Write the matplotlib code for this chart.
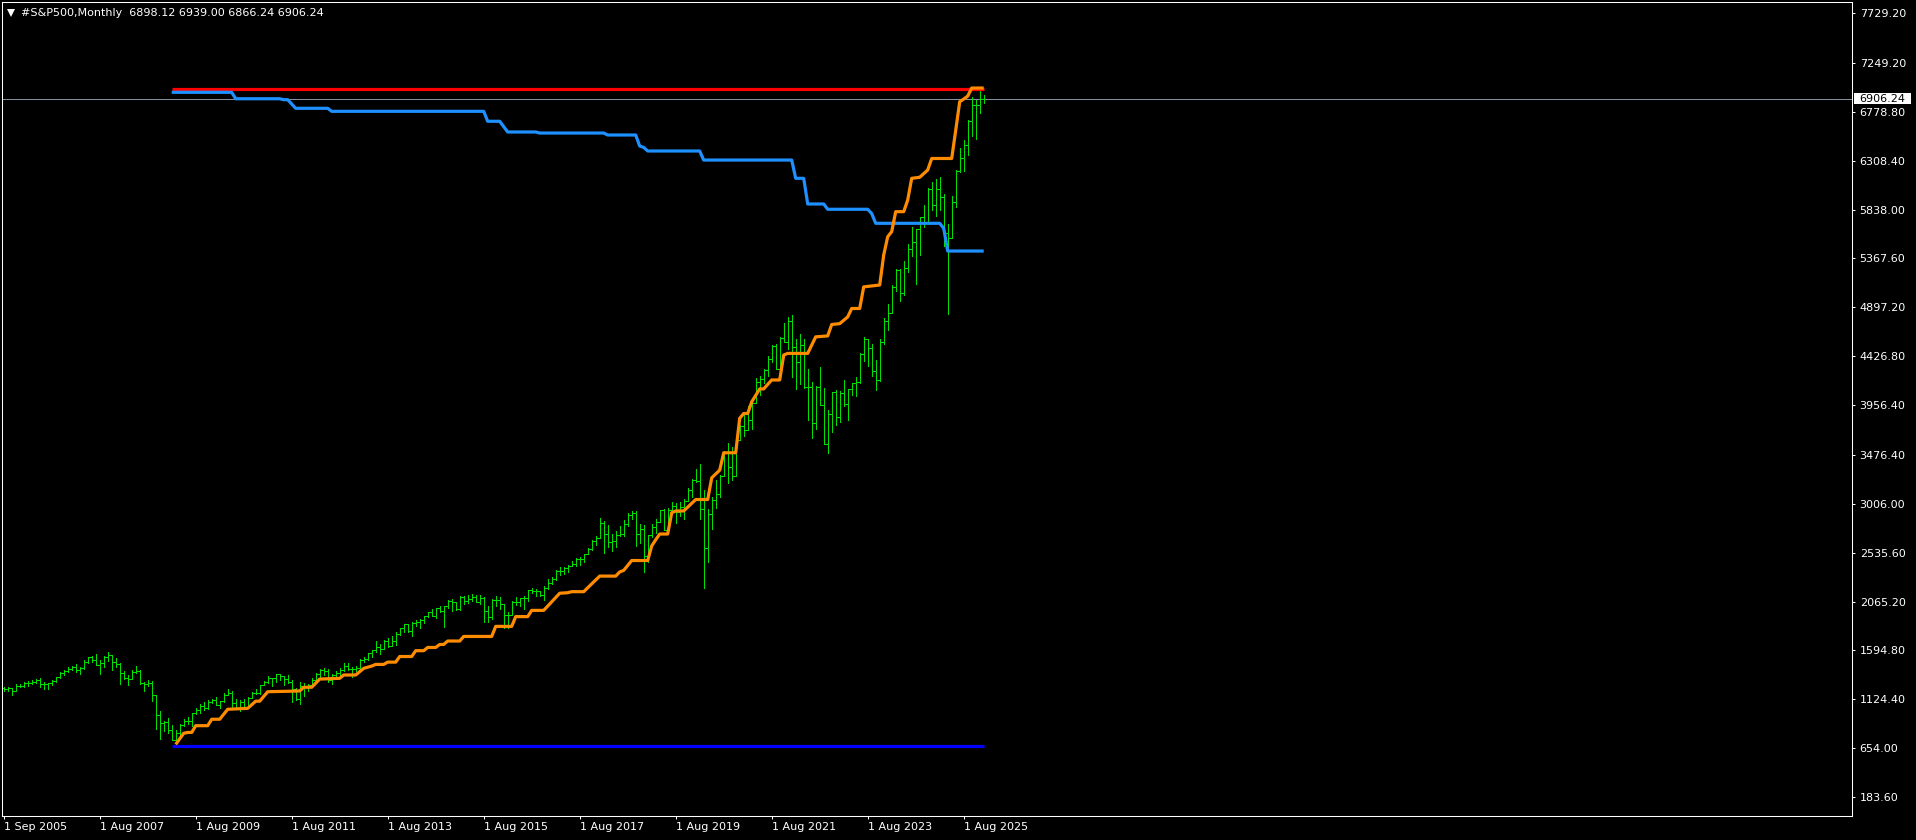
import numpy as np
import matplotlib
matplotlib.use("Agg")
import matplotlib.pyplot as plt
import matplotlib.transforms as mtransforms
from matplotlib.collections import LineCollection
from matplotlib.lines import Line2D
from matplotlib.patches import Rectangle

#------------------------------------------------------------------
# Monthly OHLC bars, first bar Aug 2005, last bar Jan 2026
opens = [
    1234.2, 1220.3, 1228.8, 1207.0, 1249.5,                                             # 2005
    1248.3, 1280.1, 1280.7, 1294.9, 1310.6, 1270.1, 1270.2, 1276.7, 1303.8, 1335.9, 1377.9, 1400.6,  # 2006
    1418.3, 1438.2, 1406.8, 1420.9, 1482.4, 1530.6, 1503.4, 1455.3, 1474.0, 1526.8, 1549.4, 1481.1,  # 2007
    1468.4, 1378.6, 1330.6, 1322.7, 1385.6, 1400.4, 1280.0, 1267.4, 1282.8, 1166.4, 968.8, 896.2,    # 2008
    903.3, 825.9, 735.1, 797.9, 872.8, 919.1, 919.3, 987.5, 1020.6, 1057.1, 1036.2, 1095.6,          # 2009
    1115.1, 1073.9, 1104.5, 1169.4, 1186.7, 1089.4, 1030.7, 1101.6, 1049.3, 1141.2, 1183.3, 1180.6,  # 2010
    1257.6, 1286.1, 1327.2, 1325.8, 1363.6, 1345.2, 1320.6, 1292.3, 1218.9, 1131.4, 1253.3, 1247.0,  # 2011
    1257.6, 1312.4, 1365.7, 1408.5, 1397.9, 1310.3, 1362.2, 1379.3, 1406.6, 1440.7, 1412.2, 1416.2,  # 2012
    1426.2, 1498.1, 1514.7, 1569.2, 1597.6, 1630.7, 1606.3, 1685.7, 1633.0, 1681.6, 1756.5, 1805.8,  # 2013
    1848.4, 1782.6, 1859.5, 1872.3, 1883.9, 1923.6, 1960.2, 1930.7, 2003.4, 1972.3, 2018.1, 2067.6,  # 2014
    2058.9, 1995.0, 2104.5, 2067.9, 2085.5, 2107.4, 2063.1, 2103.8, 1972.2, 1920.0, 2079.4, 2080.4,  # 2015
    2043.9, 1940.2, 1932.2, 2059.7, 2065.3, 2096.9, 2098.9, 2173.6, 2171.0, 2168.3, 2126.2, 2199.0,  # 2016
    2238.8, 2278.9, 2363.6, 2362.7, 2384.2, 2411.8, 2423.4, 2470.3, 2471.7, 2519.4, 2575.3, 2647.6,  # 2017
    2673.6, 2823.8, 2713.8, 2640.9, 2648.1, 2705.3, 2718.4, 2816.3, 2901.5, 2914.0, 2711.7, 2760.2,  # 2018
    2506.9, 2704.1, 2784.5, 2834.4, 2945.8, 2752.1, 2941.8, 2980.4, 2926.5, 2976.7, 3037.6, 3141.0,  # 2019
    3230.8, 3225.5, 2954.2, 2584.6, 2912.4, 3044.3, 3100.3, 3271.1, 3500.3, 3363.0, 3270.0, 3621.6,  # 2020
    3756.1, 3714.2, 3811.2, 3972.9, 4181.2, 4204.1, 4297.5, 4395.3, 4522.7, 4307.5, 4605.4, 4567.0,  # 2021
    4766.2, 4515.6, 4373.9, 4530.4, 4131.9, 4132.2, 3785.4, 4130.3, 3955.0, 3585.6, 3872.0, 4080.1,  # 2022
    3839.5, 4076.6, 3970.2, 4109.3, 4169.5, 4179.8, 4450.4, 4589.0, 4507.7, 4288.1, 4193.8, 4567.8,  # 2023
    4769.8, 4845.7, 5096.3, 5254.4, 5035.7, 5277.5, 5460.5, 5522.3, 5648.4, 5762.5, 5705.5, 6032.4,  # 2024
    5881.6, 6040.5, 5954.5, 5611.9, 5569.1, 5911.7, 6205.0, 6339.4, 6460.3, 6688.5, 6840.2, 6849.1,  # 2025
    6898.12,                                                                                          # 2026
]
highs = [
    1245.9, 1243.1, 1233.3, 1270.6, 1275.8,
    1294.9, 1297.6, 1310.9, 1318.2, 1326.7, 1290.7, 1280.4, 1307.5, 1340.3, 1389.4, 1407.9, 1431.8,
    1441.6, 1461.6, 1438.9, 1498.0, 1535.6, 1540.6, 1555.9, 1503.9, 1538.7, 1576.1, 1549.4, 1523.6,
    1471.8, 1396.0, 1359.7, 1404.0, 1440.2, 1404.1, 1292.2, 1313.2, 1303.0, 1167.0, 1007.5, 918.9,
    943.9, 875.0, 833.0, 888.7, 930.2, 956.2, 996.7, 1039.5, 1080.2, 1101.4, 1113.7, 1130.4,
    1150.5, 1112.4, 1180.2, 1219.8, 1208.0, 1131.2, 1121.0, 1129.2, 1148.9, 1196.1, 1227.1, 1262.6,
    1302.7, 1344.1, 1332.3, 1370.6, 1370.6, 1345.2, 1356.5, 1307.4, 1230.7, 1293.0, 1277.6, 1269.4,
    1333.5, 1378.0, 1419.2, 1422.4, 1415.3, 1363.5, 1392.0, 1426.7, 1474.5, 1471.0, 1434.3, 1448.0,
    1509.9, 1530.9, 1570.3, 1597.6, 1687.2, 1654.2, 1698.8, 1709.7, 1729.9, 1775.2, 1813.6, 1849.4,
    1850.8, 1867.9, 1884.0, 1897.3, 1924.0, 1968.2, 1991.4, 2005.0, 2019.3, 2018.2, 2075.8, 2093.6,
    2064.4, 2119.6, 2117.5, 2126.0, 2134.7, 2129.9, 2132.8, 2112.7, 2021.0, 2094.3, 2116.5, 2104.3,
    2043.9, 1963.0, 2072.2, 2111.1, 2103.5, 2120.6, 2177.1, 2193.8, 2187.9, 2169.6, 2214.1, 2277.5,
    2301.0, 2371.5, 2401.0, 2398.2, 2418.7, 2453.8, 2484.0, 2490.9, 2519.4, 2583.0, 2657.7, 2695.0,
    2872.9, 2836.0, 2801.9, 2717.5, 2742.2, 2791.5, 2848.0, 2916.5, 2940.9, 2939.9, 2815.2, 2800.2,
    2709.0, 2813.5, 2860.3, 2949.5, 2954.1, 2964.2, 3028.0, 3013.6, 3022.0, 3050.1, 3154.3, 3247.9,
    3337.8, 3393.5, 3136.7, 2954.9, 3068.7, 3233.1, 3280.0, 3514.8, 3588.1, 3549.9, 3646.0, 3760.2,
    3870.9, 3950.4, 3994.4, 4218.8, 4238.0, 4302.4, 4430.0, 4537.4, 4545.9, 4608.1, 4743.8, 4808.9,
    4818.6, 4595.3, 4637.3, 4593.5, 4307.7, 4177.5, 4140.2, 4325.3, 4119.3, 3905.4, 4080.1, 4101.0,
    4094.2, 4195.4, 4110.8, 4170.1, 4231.1, 4458.5, 4607.1, 4594.0, 4541.3, 4393.6, 4587.6, 4793.3,
    4931.1, 5111.1, 5264.9, 5264.0, 5341.9, 5505.5, 5669.7, 5651.6, 5767.4, 5878.5, 6044.2, 6100.0,
    6128.2, 6147.4, 5986.1, 5695.3, 5968.6, 6215.1, 6427.0, 6508.2, 6699.5, 6920.3, 6890.5, 6985.0,
    6939.00,
]
lows = [
    1201.1, 1205.4, 1168.2, 1201.1, 1246.6,
    1245.7, 1253.6, 1268.0, 1280.7, 1245.3, 1219.3, 1224.5, 1261.3, 1290.9, 1327.1, 1360.9, 1385.9,
    1404.0, 1389.1, 1364.0, 1416.4, 1476.7, 1484.2, 1454.3, 1370.6, 1439.3, 1489.6, 1406.1, 1435.7,
    1270.1, 1316.8, 1257.0, 1318.0, 1373.1, 1272.0, 1200.4, 1247.5, 1106.4, 839.8, 741.0, 815.7,
    804.2, 734.5, 666.8, 783.3, 866.1, 888.9, 869.3, 978.5, 992.0, 1019.0, 1029.4, 1085.9,
    1071.6, 1044.5, 1101.4, 1168.0, 1040.8, 1028.3, 1010.9, 1039.7, 1048.1, 1131.9, 1173.0, 1179.0,
    1257.6, 1282.9, 1249.1, 1294.7, 1311.8, 1258.1, 1282.9, 1101.5, 1114.2, 1074.8, 1158.7, 1202.4,
    1257.6, 1312.4, 1340.0, 1357.4, 1292.0, 1266.7, 1325.4, 1354.7, 1396.6, 1403.3, 1343.4, 1398.1,
    1426.2, 1485.0, 1501.5, 1536.0, 1581.3, 1560.3, 1604.6, 1627.5, 1633.0, 1646.5, 1746.2, 1768.0,
    1770.5, 1737.9, 1834.4, 1814.4, 1859.8, 1916.0, 1930.7, 1904.8, 1964.0, 1820.7, 2001.0, 1972.6,
    1988.4, 1980.9, 2039.7, 2048.4, 2067.9, 2056.3, 2044.0, 1867.0, 1871.9, 1893.7, 2019.4, 1993.3,
    1812.3, 1810.1, 1931.8, 2033.8, 2025.9, 1991.7, 2074.0, 2147.6, 2119.1, 2114.7, 2083.8, 2187.4,
    2233.6, 2271.7, 2322.3, 2329.0, 2352.7, 2405.7, 2407.7, 2417.4, 2446.6, 2519.4, 2557.5, 2605.5,
    2673.6, 2532.7, 2585.9, 2553.8, 2594.6, 2698.7, 2692.0, 2796.3, 2864.1, 2603.5, 2631.1, 2346.6,
    2444.0, 2681.8, 2722.3, 2834.4, 2750.5, 2728.8, 2941.8, 2822.1, 2891.9, 2855.9, 3037.6, 3070.3,
    3214.6, 2855.8, 2191.9, 2447.5, 2766.6, 2965.7, 3073.9, 3271.1, 3209.5, 3233.9, 3270.0, 3621.6,
    3662.7, 3714.2, 3723.3, 3972.9, 4056.9, 4164.4, 4233.1, 4367.7, 4305.9, 4278.9, 4560.0, 4495.1,
    4222.6, 4114.7, 4157.9, 4124.3, 3810.3, 3636.9, 3721.6, 3954.5, 3584.1, 3491.6, 3698.2, 3764.5,
    3794.3, 3943.1, 3808.9, 4049.3, 4048.3, 4166.2, 4385.1, 4335.3, 4238.6, 4103.8, 4187.8, 4546.5,
    4682.1, 4845.7, 5056.8, 4953.6, 5011.1, 5234.3, 5391.0, 5119.3, 5402.6, 5674.0, 5696.5, 5832.3,
    5773.3, 5837.7, 5488.7, 4835.0, 5560.0, 5861.4, 6201.6, 6212.7, 6360.6, 6550.2, 6521.9, 6770.0,
    6866.24,
]
closes = [
    1220.3, 1228.8, 1207.0, 1249.5, 1248.3,
    1280.1, 1280.7, 1294.9, 1310.6, 1270.1, 1270.2, 1276.7, 1303.8, 1335.9, 1377.9, 1400.6, 1418.3,
    1438.2, 1406.8, 1420.9, 1482.4, 1530.6, 1503.4, 1455.3, 1474.0, 1526.8, 1549.4, 1481.1, 1468.4,
    1378.6, 1330.6, 1322.7, 1385.6, 1400.4, 1280.0, 1267.4, 1282.8, 1166.4, 968.8, 896.2, 903.3,
    825.9, 735.1, 797.9, 872.8, 919.1, 919.3, 987.5, 1020.6, 1057.1, 1036.2, 1095.6, 1115.1,
    1073.9, 1104.5, 1169.4, 1186.7, 1089.4, 1030.7, 1101.6, 1049.3, 1141.2, 1183.3, 1180.6, 1257.6,
    1286.1, 1327.2, 1325.8, 1363.6, 1345.2, 1320.6, 1292.3, 1218.9, 1131.4, 1253.3, 1247.0, 1257.6,
    1312.4, 1365.7, 1408.5, 1397.9, 1310.3, 1362.2, 1379.3, 1406.6, 1440.7, 1412.2, 1416.2, 1426.2,
    1498.1, 1514.7, 1569.2, 1597.6, 1630.7, 1606.3, 1685.7, 1633.0, 1681.6, 1756.5, 1805.8, 1848.4,
    1782.6, 1859.5, 1872.3, 1883.9, 1923.6, 1960.2, 1930.7, 2003.4, 1972.3, 2018.1, 2067.6, 2058.9,
    1995.0, 2104.5, 2067.9, 2085.5, 2107.4, 2063.1, 2103.8, 1972.2, 1920.0, 2079.4, 2080.4, 2043.9,
    1940.2, 1932.2, 2059.7, 2065.3, 2096.9, 2098.9, 2173.6, 2171.0, 2168.3, 2126.2, 2199.0, 2238.8,
    2278.9, 2363.6, 2362.7, 2384.2, 2411.8, 2423.4, 2470.3, 2471.7, 2519.4, 2575.3, 2647.6, 2673.6,
    2823.8, 2713.8, 2640.9, 2648.1, 2705.3, 2718.4, 2816.3, 2901.5, 2914.0, 2711.7, 2760.2, 2506.9,
    2704.1, 2784.5, 2834.4, 2945.8, 2752.1, 2941.8, 2980.4, 2926.5, 2976.7, 3037.6, 3141.0, 3230.8,
    3225.5, 2954.2, 2584.6, 2912.4, 3044.3, 3100.3, 3271.1, 3500.3, 3363.0, 3270.0, 3621.6, 3756.1,
    3714.2, 3811.2, 3972.9, 4181.2, 4204.1, 4297.5, 4395.3, 4522.7, 4307.5, 4605.4, 4567.0, 4766.2,
    4515.6, 4373.9, 4530.4, 4131.9, 4132.2, 3785.4, 4130.3, 3955.0, 3585.6, 3872.0, 4080.1, 3839.5,
    4076.6, 3970.2, 4109.3, 4169.5, 4179.8, 4450.4, 4589.0, 4507.7, 4288.1, 4193.8, 4567.8, 4769.8,
    4845.7, 5096.3, 5254.4, 5035.7, 5277.5, 5460.5, 5522.3, 5648.4, 5762.5, 5705.5, 6032.4, 5881.6,
    6040.5, 5954.5, 5611.9, 5569.1, 5911.7, 6205.0, 6339.4, 6460.3, 6688.5, 6840.2, 6849.1, 6898.0,
    6906.24,
]

# stepped indicator lines: (bar index from Aug 2005, price)
orange_bar = [43, 45, 46, 47, 48, 51, 52, 54, 56, 61, 63, 64, 66, 74, 75, 77, 79, 84, 85, 88,
              90, 92, 93, 95, 96, 98, 99, 102, 103, 105, 106, 108, 109, 110, 111, 114, 115, 122,
              123, 127, 128, 131, 132, 135, 139, 141, 142, 145, 149, 153, 154, 155, 157, 161,
              162, 163, 164, 166, 167, 168, 170, 173, 176, 177, 179, 180, 183, 184, 185, 186,
              187, 189, 190, 192, 194, 195, 196, 201, 203, 206, 207, 209, 211, 212, 214, 215,
              219, 220, 221, 222, 223, 225, 226, 227, 229, 231, 232, 237, 238, 239, 240, 241,
              242, 245]
orange_val = [690, 797, 805, 805, 870, 870, 932, 932, 1028, 1037, 1106, 1106, 1197, 1204, 1240,
              1240, 1319, 1326, 1358, 1358, 1422, 1444, 1460, 1460, 1482, 1482, 1536, 1536, 1592,
              1592, 1623, 1623, 1652, 1652, 1685, 1685, 1729, 1729, 1826, 1826, 1920, 1920, 1980,
              1980, 2145, 2150, 2160, 2160, 2310, 2310, 2350, 2365, 2460, 2460, 2600, 2660, 2715,
              2715, 2920, 2937, 2937, 3047, 3047, 3256, 3330, 3497, 3497, 3829, 3875, 3875, 3987,
              4112, 4112, 4198, 4198, 4438, 4454, 4454, 4613, 4622, 4732, 4740, 4805, 4886, 4886,
              5094, 5112, 5400, 5577, 5626, 5818, 5818, 5930, 6139, 6149, 6219, 6330, 6330, 6600,
              6876, 6902, 6930, 7008, 7008]

blue_bar = [42, 57, 58, 69, 70, 71, 73, 81, 82, 120, 121, 124, 126, 133, 134, 150, 151, 158,
            159, 160, 161, 174, 175, 197, 198, 200, 201, 205, 206, 216, 217, 218, 234, 235,
            236, 245]
blue_val = [6967, 6967, 6905, 6905, 6896, 6896, 6813, 6813, 6784, 6784, 6688, 6688, 6585, 6585,
            6575, 6575, 6556, 6556, 6450, 6437, 6402, 6402, 6315, 6315, 6139, 6139, 5892, 5892,
            5841, 5841, 5800, 5706, 5706, 5658, 5439, 5439]

# horizontal levels (start bar, end bar, price)
top_level = (42, 245, 6996.0)
bottom_level = (42, 245, 671.6)
last_price = 6906.24

title_text = "#S&P500,Monthly  6898.12 6939.00 6866.24 6906.24"

ytick_vals = [183.60, 654.00, 1124.40, 1594.80, 2065.20, 2535.60, 3006.00, 3476.40,
              3956.40, 4426.80, 4897.20, 5367.60, 5838.00, 6308.40, 6778.80, 7249.20, 7729.20]
xtick_bars = [0, 24, 48, 72, 96, 120, 144, 168, 192, 216, 240]
xtick_labels = ["1 Sep 2005", "1 Aug 2007", "1 Aug 2009", "1 Aug 2011", "1 Aug 2013",
                "1 Aug 2015", "1 Aug 2017", "1 Aug 2019", "1 Aug 2021", "1 Aug 2023",
                "1 Aug 2025"]

#------------------------------------------------------------------
W, H = 1916, 840
fig = plt.figure(figsize=(W / 100, H / 100), dpi=100, facecolor="black")
# plot frame in pixels: x 2..1852, y 2..816 (from top)
ax = fig.add_axes([2 / W, (H - 816) / H, 1850 / W, 814 / H])
ax.set_facecolor("black")

px_per_bar = 4.0
x0 = -(3.7 - 2.0) / px_per_bar
ax.set_xlim(x0, x0 + 1850 / px_per_bar)
ax.set_ylim(0.7, 7836.3)

bar_color = "#00e000"
segs = []
for i in range(len(closes)):
    segs.append([(i, lows[i]), (i, highs[i])])
    segs.append([(i - 0.32, opens[i]), (i, opens[i])])
    segs.append([(i, closes[i]), (i + 0.32, closes[i])])
ax.add_collection(LineCollection(segs, colors=bar_color, linewidths=0.72,
                                 antialiased=False, zorder=2))

# current price line
ax.axhline(last_price, color="#8090a0", lw=0.72, zorder=1)

# levels and indicator lines
ax.plot([top_level[0], top_level[1]], [top_level[2]] * 2, color="#ff0000", lw=2.3,
        solid_capstyle="butt", zorder=3)
ax.plot([bottom_level[0], bottom_level[1]], [bottom_level[2]] * 2, color="#0000ff", lw=2.3,
        solid_capstyle="butt", zorder=3)
ax.plot(blue_bar, blue_val, color="#1e90ff", lw=2.3, solid_capstyle="butt", zorder=4)
ax.plot(orange_bar, orange_val, color="#ff8c00", lw=2.3, solid_capstyle="butt", zorder=5)

# axes look (MT4 style)
for s in ax.spines.values():
    s.set_color("white")
    s.set_linewidth(0.75)
ax.yaxis.tick_right()
ax.set_yticks(ytick_vals)
ax.set_yticklabels(["%.2f" % v for v in ytick_vals])
ax.set_xticks(xtick_bars)
ax.set_xticklabels(xtick_labels, ha="left")
ax.tick_params(axis="both", colors="white", labelcolor="white", labelsize=8,
               length=2.5, width=0.75, direction="out")
ax.tick_params(axis="y", pad=3)
ax.tick_params(axis="x", pad=2)

# price tag on the right axis
trans = mtransforms.blended_transform_factory(ax.transAxes, ax.transData)
ax.add_patch(Rectangle((1.0 + 2 / 1850, last_price - 5.8 * 9.626),
                       57 / 1850, 11.6 * 9.626, transform=trans, facecolor="white",
                       edgecolor="none", clip_on=False, zorder=6))
ax.text(1.0 + 7 / 1850, last_price, "%.2f" % last_price, transform=trans, color="black",
        fontsize=8, ha="left", va="center", zorder=7, clip_on=False)

# header
fig.add_artist(Line2D([11 / W], [1 - 12.5 / H], marker="v", markersize=6, color="white",
                      markeredgewidth=0, linestyle="none", transform=fig.transFigure))
fig.text(21 / W, 1 - 12.5 / H, title_text, color="white", fontsize=8, ha="left", va="center")

plt.savefig("out.png", dpi=100, facecolor="black")
